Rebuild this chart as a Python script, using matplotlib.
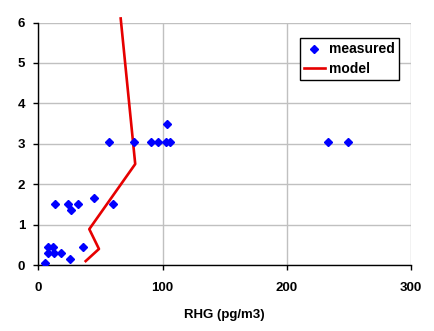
import matplotlib.pyplot as plt

plt.rcParams['font.family'] = ['Liberation Sans', 'DejaVu Sans']
plt.rcParams['font.weight'] = 'bold'

# measured values
meas_x = [5.5, 7.9, 7.4, 11.9, 12.7, 17.9, 25.1, 35.6,
          13.3, 23.5, 26.2, 31.8, 44.7, 60.2,
          56.5, 76.6, 90.6, 96.2, 102.4, 106.1, 103.2, 232.8, 249.2]
meas_y = [0.06, 0.45, 0.30, 0.45, 0.30, 0.30, 0.14, 0.45,
          1.52, 1.52, 1.37, 1.52, 1.67, 1.52,
          3.04, 3.04, 3.04, 3.04, 3.04, 3.04, 3.50, 3.04, 3.04]

# model profile
model_x = [38.0, 48.7, 40.9, 77.9, 66.2]
model_y = [0.10, 0.40, 0.89, 2.50, 6.10]

fig = plt.figure(figsize=(4.34, 3.31), dpi=100)
ax = fig.add_axes([0.0887, 0.199, 0.947 - 0.0887, 0.932 - 0.199])

ax.plot(meas_x, meas_y, linestyle='none', marker='D', markersize=4.2,
        color='#0000ff', label='measured', zorder=3)
ax.plot(model_x, model_y, color='#e60000', linewidth=1.9, label='model',
        clip_on=False, zorder=2)

ax.set_xlim(0, 300)
ax.set_ylim(0, 6)
ax.set_xticks([0, 100, 200, 300])
ax.set_yticks([0, 1, 2, 3, 4, 5, 6])
ax.grid(True, color='#c0c0c0', linewidth=1.0)
ax.set_axisbelow(True)

for s in ['top', 'right']:
    ax.spines[s].set_visible(False)
for s in ['left', 'bottom']:
    ax.spines[s].set_linewidth(1.0)
    ax.spines[s].set_color('black')

ax.tick_params(axis='both', direction='out', length=3.6, width=1.0,
               labelsize=9.5)
ax.tick_params(axis='y', pad=6)
ax.tick_params(axis='x', pad=8.5)

ax.set_xlabel('RHG (pg/m3)', fontsize=9.5, fontweight='bold', labelpad=11)

leg = ax.legend(loc='upper right', bbox_to_anchor=(0.968, 0.935),
                fontsize=10, frameon=True, fancybox=False,
                borderpad=0.3, handlelength=1.5, handletextpad=0.3,
                labelspacing=0.4, borderaxespad=0)
leg.get_frame().set_edgecolor('black')
leg.get_frame().set_linewidth(1.0)
leg.get_frame().set_alpha(1)

fig.savefig('out.png', dpi=100)
